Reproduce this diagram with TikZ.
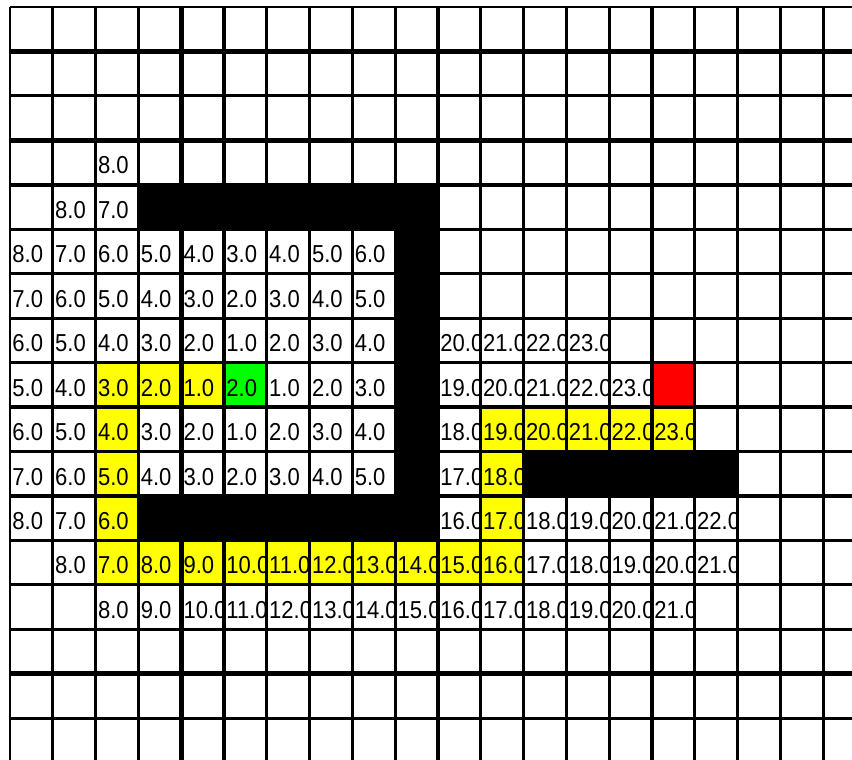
\documentclass[tikz,border=0pt]{standalone}
\usepackage{fontspec}
\setmainfont{Liberation Sans}
\newcommand\CW{42.8}
\newcommand\CH{44.45}
\tikzset{
  lbl/.style={anchor=base west,inner sep=0pt,outer sep=0pt,font=\fontsize{24.5}{24.5}\selectfont},
  gridline/.style={line width=3.2pt,black},
  yel/.style={fill={rgb,255:red,255;green,255;blue,0}},
  grn/.style={fill={rgb,255:red,0;green,255;blue,0}},
  rd/.style={fill={rgb,255:red,255;green,0;blue,0}},
  wht/.style={fill=white}
}
\newcommand\cellt[4]{%
  \pgfmathsetmacro\cx{10+\CW*#1}%
  \pgfmathsetmacro\cy{7+\CH*#2}%
  \begin{scope}
    \clip (\cx,\cy) rectangle ++(\CW,\CH);
    \path[#3] (\cx,\cy) rectangle ++(\CW,\CH);
    \node[lbl] (c-#1-#2) at (\cx+2.4,\cy+33.5) {\scalebox{0.9}[1]{#4}};
  \end{scope}}
\newcommand\blk[4]{% col1 row1 col2 row2 (inclusive)
  \fill[black] ({10+\CW*#1},{7+\CH*#2}) rectangle ({10+\CW*(#3+1)},{7+\CH*(#4+1)});}
\begin{document}
\begin{tikzpicture}[x=1pt,y=-1pt]
\useasboundingbox (0,0) rectangle (852,760);
\fill[white] (0,0) rectangle (852,760);
% row 3
\cellt{2}{3}{wht}{8.0}
% row 4
\cellt{1}{4}{wht}{8.0}
\cellt{2}{4}{wht}{7.0}
% row 5
\foreach \c/\t in {0/8.0,1/7.0,2/6.0,3/5.0,4/4.0,5/3.0,6/4.0,7/5.0,8/6.0}{\cellt{\c}{5}{wht}{\t}}
% row 6
\foreach \c/\t in {0/7.0,1/6.0,2/5.0,3/4.0,4/3.0,5/2.0,6/3.0,7/4.0,8/5.0}{\cellt{\c}{6}{wht}{\t}}
% row 7
\foreach \c/\t in {0/6.0,1/5.0,2/4.0,3/3.0,4/2.0,5/1.0,6/2.0,7/3.0,8/4.0,10/20.0,11/21.0,12/22.0,13/23.0}{\cellt{\c}{7}{wht}{\t}}
% row 8
\foreach \c/\s/\t in {0/wht/5.0,1/wht/4.0,2/yel/3.0,3/yel/2.0,4/yel/1.0,5/grn/2.0,6/wht/1.0,7/wht/2.0,8/wht/3.0,10/wht/19.0,11/wht/20.0,12/wht/21.0,13/wht/22.0,14/wht/23.0}{\cellt{\c}{8}{\s}{\t}}
\fill[rd] ({10+\CW*15},{7+\CH*8}) rectangle ++(\CW,\CH);
% row 9
\foreach \c/\s/\t in {0/wht/6.0,1/wht/5.0,2/yel/4.0,3/wht/3.0,4/wht/2.0,5/wht/1.0,6/wht/2.0,7/wht/3.0,8/wht/4.0,10/wht/18.0,11/yel/19.0,12/yel/20.0,13/yel/21.0,14/yel/22.0,15/yel/23.0}{\cellt{\c}{9}{\s}{\t}}
% row 10
\foreach \c/\s/\t in {0/wht/7.0,1/wht/6.0,2/yel/5.0,3/wht/4.0,4/wht/3.0,5/wht/2.0,6/wht/3.0,7/wht/4.0,8/wht/5.0,10/wht/17.0,11/yel/18.0}{\cellt{\c}{10}{\s}{\t}}
% row 11
\foreach \c/\s/\t in {0/wht/8.0,1/wht/7.0,2/yel/6.0,10/wht/16.0,11/yel/17.0,12/wht/18.0,13/wht/19.0,14/wht/20.0,15/wht/21.0,16/wht/22.0}{\cellt{\c}{11}{\s}{\t}}
% row 12
\foreach \c/\s/\t in {1/wht/8.0,2/yel/7.0,3/yel/8.0,4/yel/9.0,5/yel/10.0,6/yel/11.0,7/yel/12.0,8/yel/13.0,9/yel/14.0,10/yel/15.0,11/yel/16.0,12/wht/17.0,13/wht/18.0,14/wht/19.0,15/wht/20.0,16/wht/21.0}{\cellt{\c}{12}{\s}{\t}}
% row 13
\foreach \c/\t in {2/8.0,3/9.0,4/10.0,5/11.0,6/12.0,7/13.0,8/14.0,9/15.0,10/16.0,11/17.0,12/18.0,13/19.0,14/20.0,15/21.0}{\cellt{\c}{13}{wht}{\t}}
% grid lines
\foreach \k in {1,...,19}{\draw[gridline] ({10+\CW*\k},7) -- ({10+\CW*\k},760);}
\draw[gridline,line width=4.6pt] ({10+\CW*4},7) -- ({10+\CW*4},760);
\draw[line width=1.6pt] (10,7) -- (10,760);
\foreach \r in {1,...,16}{\draw[gridline] (10,{7+\CH*\r}) -- (852,{7+\CH*\r});}
\foreach \r in {3,15}{\draw[gridline,line width=5.4pt] (10,{7+\CH*\r}) -- (852,{7+\CH*\r});}
\foreach \r in {1,4}{\draw[gridline,line width=4.2pt] (10,{7+\CH*\r}) -- (852,{7+\CH*\r});}
\draw[line width=2pt] (10,7) -- (852,7);
% walls
\blk{3}{4}{9}{4}
\blk{9}{4}{9}{11}
\blk{3}{11}{9}{11}
\blk{12}{10}{16}{10}
\end{tikzpicture}
\end{document}
